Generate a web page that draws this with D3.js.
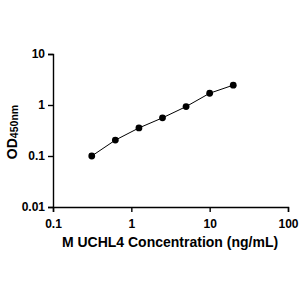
<!DOCTYPE html>
<html>
<head>
<meta charset="utf-8">
<script src="https://cdn.jsdelivr.net/npm/d3@7"></script>
<style>
  body { margin: 0; background: #fff; }
  text { font-family: "Liberation Sans", Arial, sans-serif; font-weight: bold; }
</style>
</head>
<body>
<svg id="canvas"></svg>
<script>
let concentrations = [0.3125, 0.625, 1.25, 2.5, 5, 10, 20]
let odValues = [0.10, 0.205, 0.355, 0.56, 0.93, 1.70, 2.45]
let xTicks = [0.1, 1, 10, 100]
let yTicks = [0.01, 0.1, 1, 10]

let width = 300
let height = 300

let svg = d3.select('#canvas')
svg.attr('width', width)
svg.attr('height', height)

let xScale = d3.scaleLog()
    .domain([0.1, 100])
    .range([53, 288])

let yScale = d3.scaleLog()
    .domain([0.01, 10])
    .range([207, 54])

let xAxis = d3.axisBottom(xScale)
    .tickValues(xTicks)
    .tickFormat(d3.format('~g'))
    .tickSizeOuter(0)
    .tickSize(5)

let yAxis = d3.axisLeft(yScale)
    .tickValues(yTicks)
    .tickFormat(d3.format('~g'))
    .tickSizeOuter(0)
    .tickSize(5)

let gx = svg.append('g')
    .attr('transform', 'translate(0, 207)')
    .call(xAxis)
gx.selectAll('text').attr('font-size', 12).attr('dy', '1.05em').attr('fill', '#000')

let gy = svg.append('g')
    .attr('transform', 'translate(53, 0)')
    .call(yAxis)
gy.selectAll('text').attr('font-size', 12).attr('fill', '#000')

svg.selectAll('.domain, .tick line')
    .attr('stroke', '#000')
    .attr('stroke-width', 1.4)

let line = d3.line()
    .x((d, i) => xScale(concentrations[i]))
    .y((d) => yScale(d))

svg.append('path')
    .datum(odValues)
    .attr('d', line)
    .attr('fill', 'none')
    .attr('stroke', '#000')
    .attr('stroke-width', 1)

svg.selectAll('circle')
    .data(odValues)
    .enter()
    .append('circle')
    .attr('cx', (d, i) => xScale(concentrations[i]))
    .attr('cy', (d) => yScale(d))
    .attr('r', 3.4)
    .attr('fill', '#000')

svg.append('text')
    .attr('x', 170)
    .attr('y', 247)
    .attr('text-anchor', 'middle')
    .attr('font-size', 14)
    .text('M UCHL4 Concentration (ng/mL)')

let yTitle = svg.append('text')
    .attr('transform', 'translate(17, 132) rotate(-90)')
    .attr('text-anchor', 'middle')
yTitle.append('tspan').attr('font-size', 14).text('OD')
yTitle.append('tspan').attr('font-size', 10.5).attr('dy', 1).text('450nm')
</script>
</body>
</html>
